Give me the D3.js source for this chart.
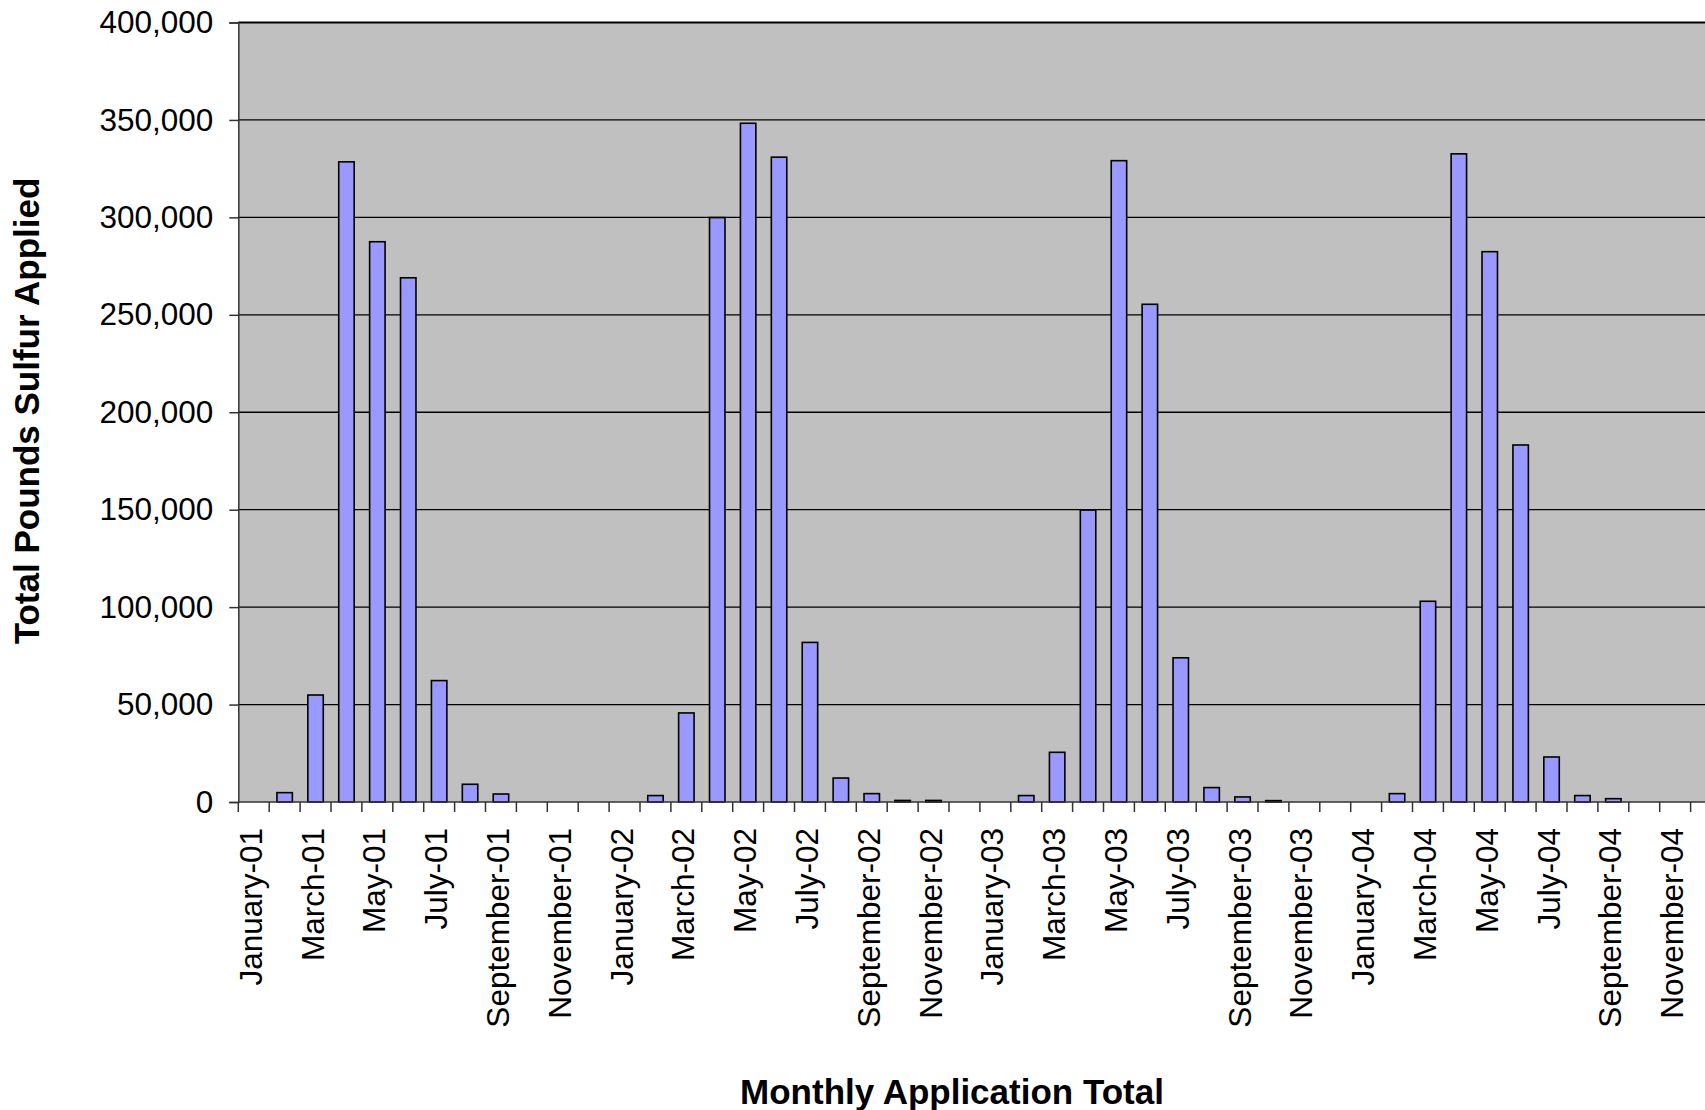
<!DOCTYPE html>
<html>
<head>
<meta charset="utf-8">
<script src="https://cdn.jsdelivr.net/npm/d3@7"></script>
<style>
  body { margin: 0; background: #fff; }
  svg { display: block; font-family: "Liberation Sans", Arial, sans-serif; }
</style>
</head>
<body>
<div class="chart"></div>
<script>
const monthNames = ["January", "February", "March", "April", "May", "June",
  "July", "August", "September", "October", "November", "December"];
const years = ["01", "02", "03", "04"];
const months = years.flatMap(yr => monthNames.map(m => m + "-" + yr));

// pounds of sulfur applied each month, Jan-01 .. Dec-04
const pounds2001 = [0, 4800, 54900, 328500, 287500, 269000, 62300, 9100, 4100, 0, 0, 0];
const pounds2002 = [0, 3300, 45700, 299900, 348300, 330900, 81900, 12300, 4300, 800, 800, 0];
const pounds2003 = [0, 3300, 25500, 149800, 329100, 255400, 74000, 7400, 2600, 700, 0, 0];
const pounds2004 = [0, 4300, 103000, 332600, 282400, 183200, 23100, 3300, 1700, 0, 0, 0];
const pounds = [...pounds2001, ...pounds2002, ...pounds2003, ...pounds2004];

const yTicks = [0, 50000, 100000, 150000, 200000, 250000, 300000, 350000, 400000];
const labelledMonths = months.filter((m, i) => i % 2 === 0);

const w = 1705;
const h = 1110;
const plotL = 238.3, plotR = 1721.5, plotT = 22.5, plotB = 802;

const svg = d3.select(".chart").append("svg")
  .attr("width", w)
  .attr("height", h);

const xBand = d3.scaleBand().domain(months).range([plotL, plotR]).padding(0);
const xBar = d3.scaleBand().domain(months).range([plotL, plotR])
  .paddingInner(0.5).paddingOuter(0.25);
const y = d3.scaleLinear().domain([0, 400000]).range([plotB, plotT]);

// plot background
svg.append("rect")
  .attr("x", plotL).attr("y", plotT)
  .attr("width", plotR - plotL).attr("height", plotB - plotT)
  .attr("fill", "#c0c0c0");

// gridlines
svg.append("g").selectAll("line")
  .data(yTicks.filter(d => d > 0))
  .enter().append("line")
  .attr("x1", plotL).attr("x2", plotR)
  .attr("y1", d => y(d)).attr("y2", d => y(d))
  .attr("stroke", "#000")
  .attr("stroke-width", d => d === 400000 ? 2 : 1.3);

// bars
svg.append("g").selectAll("rect")
  .data(months.map((m, i) => [m, pounds[i]]).filter(d => d[1] > 0))
  .enter().append("rect")
  .attr("x", d => xBar(d[0]))
  .attr("y", d => y(d[1]))
  .attr("width", xBar.bandwidth())
  .attr("height", d => y(0) - y(d[1]))
  .attr("fill", "#9999ff")
  .attr("stroke", "#000")
  .attr("stroke-width", 1.6);

// y axis
const yAxis = d3.axisLeft(y)
  .tickValues(yTicks)
  .tickSize(9)
  .tickPadding(16)
  .tickFormat(d3.format(","));
const gy = svg.append("g")
  .attr("transform", "translate(" + plotL + ",0)")
  .call(yAxis);
gy.select(".domain").attr("stroke", "#333").attr("stroke-width", 1.5);
gy.selectAll(".tick line").attr("stroke", "#333").attr("stroke-width", 1.5);
gy.selectAll("text").attr("font-size", 31.5).attr("fill", "#000");

// x axis: ticks on month boundaries, labels every other month
const gx = svg.append("g").attr("transform", "translate(0," + plotB + ")");
gx.append("line")
  .attr("x1", plotL).attr("x2", plotR)
  .attr("stroke", "#333").attr("stroke-width", 1.5);
gx.selectAll(".mtick")
  .data(months.concat(["end"]))
  .enter().append("line")
  .attr("class", "mtick")
  .attr("x1", d => d === "end" ? plotR : xBand(d))
  .attr("x2", d => d === "end" ? plotR : xBand(d))
  .attr("y1", 0).attr("y2", 10)
  .attr("stroke", "#333").attr("stroke-width", 1.5);

const xAxis = d3.axisBottom(xBand).tickValues(labelledMonths).tickSize(0);
const gxl = svg.append("g")
  .attr("transform", "translate(0," + plotB + ")")
  .call(xAxis);
gxl.select(".domain").remove();
gxl.selectAll("text")
  .attr("font-size", 31.5)
  .attr("fill", "#000")
  .attr("transform", "rotate(-90)")
  .attr("text-anchor", "end")
  .attr("x", -26)
  .attr("y", -3)
  .attr("dy", "0.35em");

// axis titles
svg.append("text")
  .attr("transform", "translate(39,411) rotate(-90)")
  .attr("text-anchor", "middle")
  .attr("font-size", 35)
  .attr("font-weight", "bold")
  .text("Total Pounds Sulfur Applied");

svg.append("text")
  .attr("x", 952)
  .attr("y", 1104)
  .attr("text-anchor", "middle")
  .attr("font-size", 35)
  .attr("font-weight", "bold")
  .text("Monthly Application Total");
</script>
</body>
</html>
